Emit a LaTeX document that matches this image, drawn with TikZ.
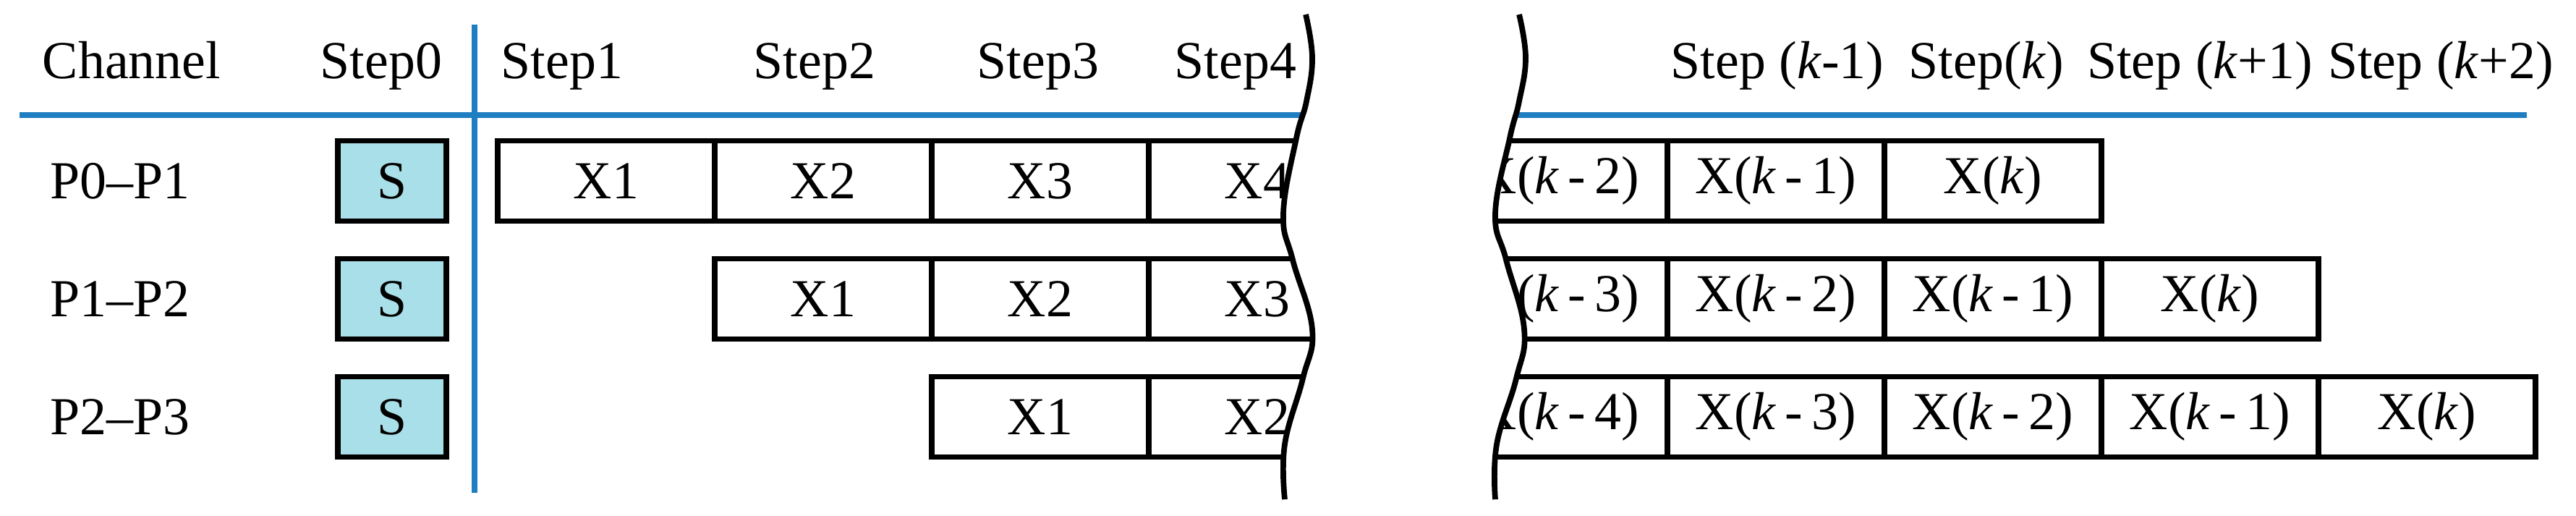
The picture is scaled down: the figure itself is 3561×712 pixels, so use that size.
\documentclass[tikz,border=0pt]{standalone}
\usepackage{fontspec}
\setmainfont{Liberation Serif}
\begin{document}
\begin{tikzpicture}[x=0.01cm,y=-0.01cm,
  every node/.style={font=\fontsize{21}{25}\selectfont},
  cell/.style={draw,line width=2.2pt,minimum width=3cm,minimum height=1.11cm,inner sep=0pt},
  sbox/.style={draw,line width=2.2pt,fill=sfill,minimum width=1.5cm,minimum height=1.11cm,inner sep=0pt},
  blueline/.style={draw=lineblue,line width=2.2pt},
  wave/.style={line width=2.2pt}]
\definecolor{lineblue}{HTML}{1F7EC1}
\definecolor{sfill}{HTML}{A8DFE8}
\useasboundingbox (0,0) rectangle (3561,712);
% grid lines
\coordinate (hl) at (27,159); \coordinate (hr) at (3493,159);
\coordinate (vt) at (656,34); \coordinate (vb) at (656,681);
\draw[blueline] (hl) -- (hr);
\draw[blueline] (vt) -- (vb);
% headers
\foreach \n/\x/\t in {h0/182/Channel,h1/527/Step0,h2/777/Step1,h3/1126/Step2,h4/1435/Step3,h5/1708/Step4,
  h6/2457/{Step (\textit{k}-1)},h7/2746/{Step(\textit{k})},h8/3041/{Step (\textit{k}+1)},h9/3374/{Step (\textit{k}+2)}}
  \node[anchor=base,inner sep=0pt] (\n) at (\x,108) {\t};
% channel labels
\node[anchor=west] (c1) at (57,250) {P0--P1};
\node[anchor=west] (c2) at (57,413) {P1--P2};
\node[anchor=west] (c3) at (57,576) {P2--P3};
% S boxes
\node[sbox] (s1) at (542,250) {S};
\node[sbox] (s2) at (542,413) {S};
\node[sbox] (s3) at (542,576) {S};
% left cells
\node[cell] (a11) at (838,250) {X1};
\node[cell] (a12) at (1138,250) {X2};
\node[cell] (a13) at (1438,250) {X3};
\node[cell] (a14) at (1738,250) {X4};
\node[cell] (a22) at (1138,413) {X1};
\node[cell] (a23) at (1438,413) {X2};
\node[cell] (a24) at (1738,413) {X3};
\node[cell] (a33) at (1438,576) {X1};
\node[cell] (a34) at (1738,576) {X2};
% right cells
\node[cell] (b10) at (2155,250) {X(\textit{k}\,-\,2)};
\node[cell] (b11) at (2455,250) {X(\textit{k}\,-\,1)};
\node[cell] (b12) at (2755,250) {X(\textit{k})};
\node[cell] (b20) at (2155,413) {X(\textit{k}\,-\,3)};
\node[cell] (b21) at (2455,413) {X(\textit{k}\,-\,2)};
\node[cell] (b22) at (2755,413) {X(\textit{k}\,-\,1)};
\node[cell] (b23) at (3055,413) {X(\textit{k})};
\node[cell] (b30) at (2155,576) {X(\textit{k}\,-\,4)};
\node[cell] (b31) at (2455,576) {X(\textit{k}\,-\,3)};
\node[cell] (b32) at (2755,576) {X(\textit{k}\,-\,2)};
\node[cell] (b33) at (3055,576) {X(\textit{k}\,-\,1)};
\node[cell] (b34) at (3355,576) {X(\textit{k})};
% break
\fill[white] plot[smooth,tension=0.7] coordinates {(1805,20) (1814,80) (1806,140) (1792,191) (1774,295) (1787,359) (1814,455) (1801,523) (1776,614) (1776,690)}
  -- plot[smooth,tension=0.7] coordinates {(2067,690) (2069,614) (2096,523) (2107,455) (2082,359) (2067,295) (2087,191) (2100,140) (2109,80) (2100,20)} -- cycle;
\draw[wave] plot[smooth,tension=0.7] coordinates {(1805,20) (1814,80) (1806,140) (1792,191) (1774,295) (1787,359) (1814,455) (1801,523) (1776,614) (1776,690)};
\draw[wave] plot[smooth,tension=0.7] coordinates {(2100,20) (2109,80) (2100,140) (2087,191) (2067,295) (2082,359) (2107,455) (2096,523) (2069,614) (2067,690)};
\end{tikzpicture}
\end{document}
